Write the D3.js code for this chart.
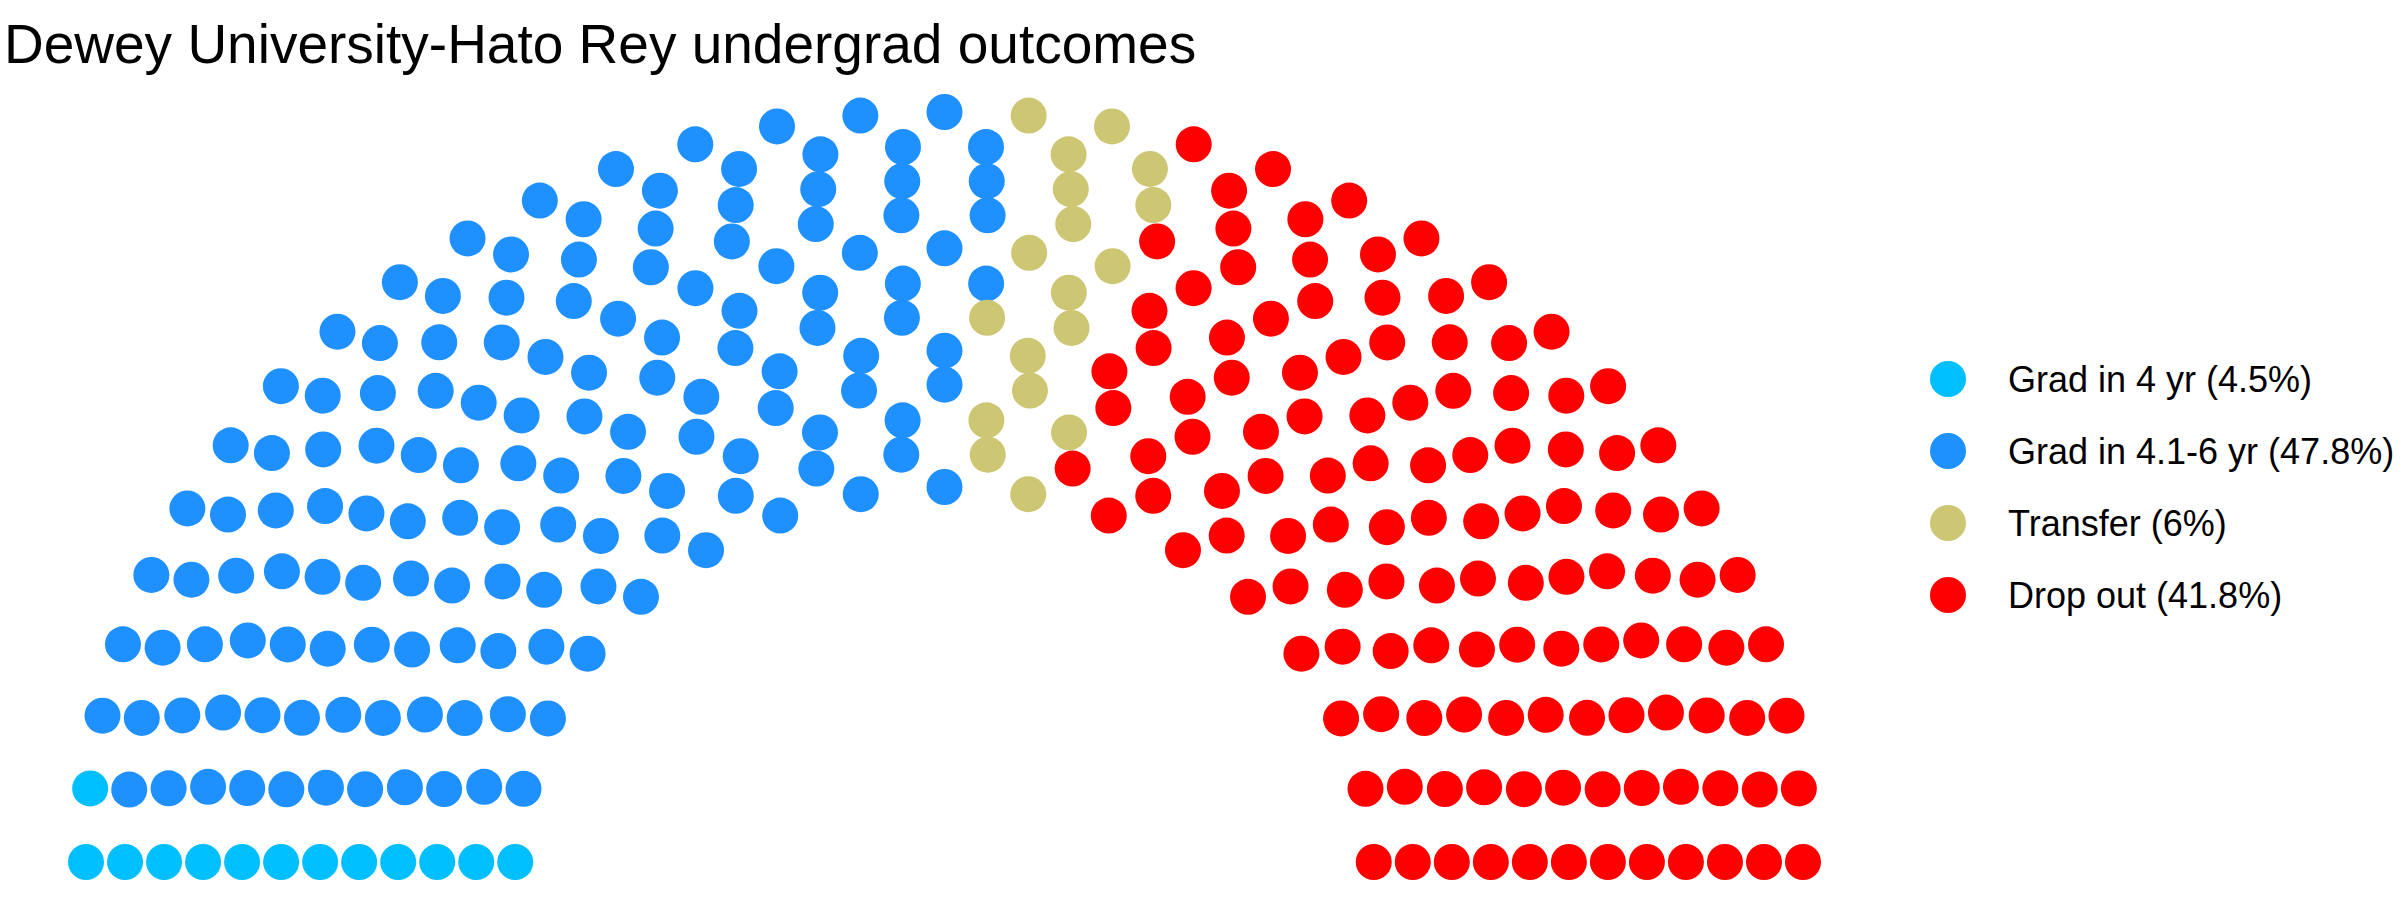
<!DOCTYPE html>
<html>
<head>
<meta charset="utf-8">
<script src="https://cdn.jsdelivr.net/npm/d3@7"></script>
<style>
	body { margin: 0; background: #fff; }
	text { font-family: "Liberation Sans", Arial, sans-serif; }
</style>
</head>
<body>
<svg id="parl" width="2400" height="900"></svg>
<script>
// outcome groups and how many seats each one gets
const groups = ["Grad in 4 yr", "Grad in 4.1-6 yr", "Transfer", "Drop out"];
const seats = [13, 143, 18, 125];
const shares = ["4.5%", "47.8%", "6%", "41.8%"];
const colors = ["#00BFFF", "#1E90FF", "#CDC673", "#FF0000"];
const parlRows = 12;

const svg = d3.select("svg#parl");
const width = +svg.attr("width");
const height = +svg.attr("height");

svg.append("rect").attr("width", width).attr("height", height).attr("fill", "#fff");

// R style rounding (half to even)
const roundR = (v) => {
	const f = Math.floor(v);
	if (Math.abs(v - f - 0.5) < 1e-9) return f % 2 === 0 ? f : f + 1;
	return Math.round(v);
};

// semicircle layout, same idea as ggparliament
const layout = function (total, rows) {
	const radii = d3.range(rows).map((i) => 1 + i / (rows - 1));
	let left = total;
	let pts = [];
	radii.forEach((r, i) => {
		const n = roundR((left * r) / d3.sum(radii.slice(i)));
		left -= n;
		for (let k = 0; k < n; k++) {
			const theta = (k * Math.PI) / (n - 1);
			pts.push({ x: r * Math.cos(theta), y: r * Math.sin(theta), row: i + 1, theta: theta });
		}
	});
	pts.sort((a, b) => b.theta - a.theta || b.row - a.row);
	return pts;
};

const pts = layout(d3.sum(seats), parlRows);
let idx = 0;
seats.forEach((s, g) => {
	for (let j = 0; j < s; j++) pts[idx++].group = groups[g];
});

const x = d3.scaleLinear([-2, 2], [86, 1803]);
const y = d3.scaleLinear([0, 2], [862, 112]);
const color = d3.scaleOrdinal(groups, colors);

svg
	.append("g")
	.selectAll("circle")
	.data(pts)
	.join("circle")
	.attr("cx", (d) => x(d.x))
	.attr("cy", (d) => y(d.y))
	.attr("r", 18)
	.attr("fill", (d) => color(d.group));

svg
	.append("text")
	.attr("x", 4)
	.attr("y", 63)
	.attr("font-size", 55)
	.attr("fill", "#000")
	.text("Dewey University-Hato Rey undergrad outcomes");

// legend
const legendY = d3.scalePoint(groups, [379, 595]);
const legend = svg
	.append("g")
	.selectAll("g")
	.data(groups)
	.join("g")
	.attr("transform", (d) => `translate(1948,${legendY(d)})`);

legend.append("circle").attr("r", 18).attr("fill", (d) => color(d));

legend
	.append("text")
	.attr("x", 60)
	.attr("dy", "0.36em")
	.attr("font-size", 36)
	.attr("fill", "#000")
	.text((d, i) => `${d} (${shares[i]})`);
</script>
</body>
</html>
